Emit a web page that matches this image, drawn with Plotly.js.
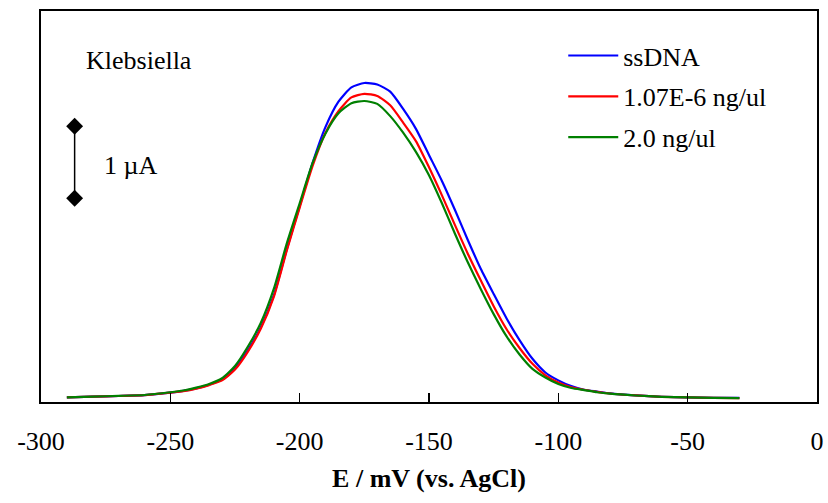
<!DOCTYPE html>
<html>
<head>
<meta charset="utf-8">
<script src="https://cdn.plot.ly/plotly-3.0.1.min.js"></script>
<style>html,body{margin:0;padding:0;background:#fff;}#chart{width:828px;height:503px;}</style>
</head>
<body>
<div id="chart"></div>
<script>
// Potential (mV vs. AgCl)
const potential = [-290, -280, -270, -260, -250, -245, -240, -235, -230, -225, -220, -215, -210, -205, -200, -195, -190, -185, -180, -175, -170, -165, -160, -155, -150, -145, -140, -135, -130, -125, -120, -115, -110, -105, -100, -95, -90, -85, -80, -70, -60, -50, -40, -30];

// Current (µA, relative to baseline of the plot)
const ssDNA = [0.065, 0.074, 0.083, 0.095, 0.13, 0.155, 0.19, 0.24, 0.31, 0.47, 0.72, 1.04, 1.48, 2.12, 2.72, 3.32, 3.82, 4.17, 4.37, 4.43, 4.41, 4.31, 4.07, 3.79, 3.43, 3.07, 2.67, 2.25, 1.85, 1.50, 1.16, 0.86, 0.60, 0.41, 0.30, 0.22, 0.17, 0.145, 0.12, 0.092, 0.073, 0.064, 0.059, 0.056];
const c107E6 = [0.065, 0.074, 0.083, 0.095, 0.13, 0.15, 0.185, 0.235, 0.30, 0.45, 0.70, 1.02, 1.46, 2.10, 2.70, 3.28, 3.74, 4.04, 4.23, 4.28, 4.25, 4.12, 3.88, 3.62, 3.26, 2.87, 2.46, 2.06, 1.69, 1.33, 1.01, 0.75, 0.53, 0.37, 0.27, 0.205, 0.17, 0.14, 0.118, 0.091, 0.072, 0.063, 0.058, 0.055];
const c20 = [0.065, 0.075, 0.085, 0.097, 0.135, 0.16, 0.20, 0.25, 0.33, 0.50, 0.77, 1.10, 1.57, 2.20, 2.76, 3.32, 3.73, 4.01, 4.15, 4.18, 4.14, 3.97, 3.74, 3.47, 3.15, 2.76, 2.34, 1.94, 1.57, 1.22, 0.91, 0.66, 0.46, 0.34, 0.25, 0.195, 0.165, 0.135, 0.115, 0.09, 0.072, 0.063, 0.058, 0.055];

const seriesNames = ["ssDNA", "1.07E-6 ng/ul", "2.0 ng/ul"];
const seriesColors = ["#0000FF", "#FF0000", "#008000"];

// Scale bar (1 µA)
const scaleBarX = [-287, -287];
const scaleBarY = [2.83, 3.83];

const xTicks = [-300, -250, -200, -150, -100, -50, 0];

const font = "Liberation Serif";

const series = [ssDNA, c107E6, c20];
const traces = series.map((ys, i) => ({
  x: potential, y: ys, type: "scatter", mode: "lines",
  name: seriesNames[i], legendgroup: "g" + i,
  line: {color: seriesColors[i], width: 2.2, shape: "spline", smoothing: 0.6}
}));
traces.push({
  x: scaleBarX, y: scaleBarY, type: "scatter", mode: "lines+markers",
  showlegend: false, hoverinfo: "skip",
  line: {color: "#000", width: 1.5},
  marker: {symbol: "diamond", size: 13, color: "#000"}
});

const layout = {
  width: 828, height: 503,
  margin: {l: 41, r: 11, t: 11, b: 101},
  paper_bgcolor: "#fff", plot_bgcolor: "#fff",
  font: {family: font, size: 26, color: "#000"},
  showlegend: true,
  legend: {
    x: 0.673, y: 0.946, xanchor: "left", yanchor: "top",
    bgcolor: "rgba(0,0,0,0)", borderwidth: 0,
    font: {family: font, size: 26, color: "#000"},
    tracegroupgap: 4, traceorder: "grouped", itemwidth: 50
  },
  xaxis: {
    range: [-300, 0], tickvals: xTicks, ticktext: xTicks.map(String),
    ticks: "inside", ticklen: 9, tickwidth: 1.5, tickcolor: "#000",
    showline: true, linewidth: 2, linecolor: "#000", mirror: true,
    showgrid: false, zeroline: false,
    ticklabelstandoff: 15,
    tickfont: {family: font, size: 26, color: "#000"},
    title: {text: "E / mV (vs. AgCl)", standoff: 14,
            font: {family: font, size: 26, color: "#000", weight: "bold"}}
  },
  yaxis: {
    range: [0, 5.43], showticklabels: false, ticks: "",
    showline: true, linewidth: 2, linecolor: "#000", mirror: true,
    showgrid: false, zeroline: false
  },
  annotations: [
    {xref: "paper", yref: "paper", x: 0.055, y: 0.873, xanchor: "left", yanchor: "middle",
     text: "Klebsiella", showarrow: false, font: {family: font, size: 26, color: "#000"}},
    {xref: "paper", yref: "paper", x: 0.079, y: 0.605, xanchor: "left", yanchor: "middle",
     text: "1 \u00b5A", showarrow: false, font: {family: font, size: 26, color: "#000"}}
  ]
};

Plotly.newPlot("chart", traces, layout, {displayModeBar: false, staticPlot: true});
</script>
</body>
</html>
